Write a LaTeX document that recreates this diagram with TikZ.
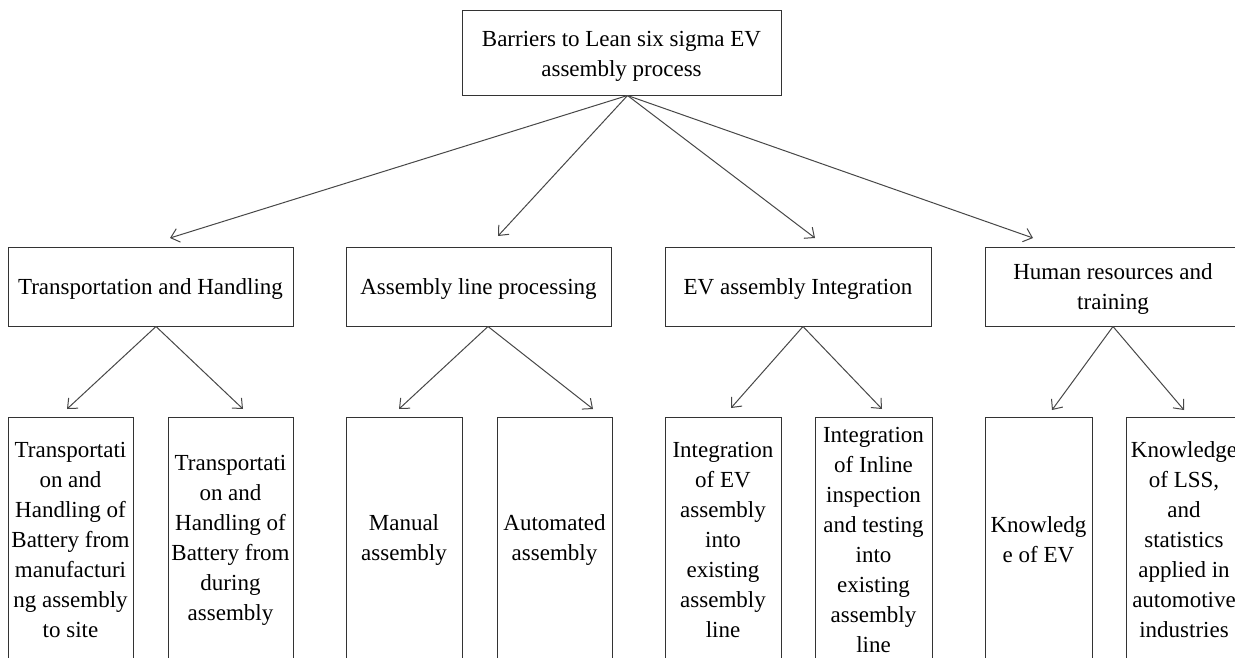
\documentclass[tikz,border=0pt]{standalone}
\usepackage{fontspec}
\setmainfont{Liberation Serif}
\usetikzlibrary{arrows.meta}
\tikzset{
  box/.style={draw=black!80, line width=1pt, inner sep=0pt, align=center,
    font=\fontsize{23}{30}\selectfont, text=black},
  txt/.style={inner sep=0pt, align=center, font=\fontsize{23}{30}\selectfont, text=black},
  arr/.style={draw=black!72, line width=1pt, -{Straight Barb[length=8pt,width=14pt,line width=1pt]}},
}
\begin{document}
\begin{tikzpicture}[x=1pt,y=-1pt]
\path[use as bounding box, clip] (0,0) rectangle (1235,657);
\fill[white] (0,0) rectangle (1235,657);
% top
\node[box, minimum width=319pt, minimum height=85pt,
  label={[txt, yshift=-3.5pt]center:Barriers to Lean six sigma EV\\assembly process}] (top) at (621.5,52.5) {};
% middle
\node[box, minimum width=285pt, minimum height=79pt,
  label={[txt, yshift=-2pt]center:Transportation and Handling}] (m1) at (150.5,286.5) {};
\node[box, minimum width=265pt, minimum height=79pt,
  label={[txt, yshift=-2pt]center:Assembly line processing}] (m2) at (478.5,286.5) {};
\node[box, minimum width=266pt, minimum height=79pt,
  label={[txt, yshift=-2pt]center:EV assembly Integration}] (m3) at (798,286.5) {};
\node[box, minimum width=256pt, minimum height=79pt,
  label={[txt, yshift=-2pt]center:Human resources and\\training}] (m4) at (1113,286.5) {};
% bottom
\node[box, minimum width=125pt, minimum height=246pt] (b1) at (70.5,540) {Transportati\\on and\\Handling of\\Battery from\\manufacturi\\ng assembly\\to site};
\node[box, minimum width=125pt, minimum height=246pt] (b2) at (230.5,540) {Transportati\\on and\\Handling of\\Battery from\\during\\assembly};
\node[box, minimum width=116pt, minimum height=246pt] (b3) at (404,540) {Manual\\assembly};
\node[box, minimum width=115pt, minimum height=246pt] (b4) at (554.5,540) {Automated\\assembly};
\node[box, minimum width=116pt, minimum height=246pt] (b5) at (723,540) {Integration\\of EV\\assembly\\into\\existing\\assembly\\line};
\node[box, minimum width=117pt, minimum height=246pt] (b6) at (873.5,540) {Integration\\of Inline\\inspection\\and testing\\into\\existing\\assembly\\line};
\node[box, minimum width=107pt, minimum height=246pt] (b7) at (1038.5,540) {Knowledg\\e of EV};
\node[box, minimum width=116pt, minimum height=246pt] (b8) at (1184,540) {Knowledge\\of LSS,\\and\\statistics\\applied in\\automotive\\industries};
% arrow end points
\coordinate (t1) at (170,238);
\coordinate (t2) at (498,236);
\coordinate (t3) at (815,238);
\coordinate (t4) at (1033,238);
\coordinate (e1) at (67,409);
\coordinate (e2) at (243,409);
\coordinate (e3) at (399,409);
\coordinate (e4) at (593,409);
\coordinate (e5) at (731,408);
\coordinate (e6) at (882,409);
\coordinate (e7) at (1052,410);
\coordinate (e8) at (1184,410);
% arrows
\foreach \t in {t1,t2,t3,t4} \draw[arr] ([xshift=6pt]top.south) -- (\t);
\draw[arr] ([xshift=5.5pt]m1.south) -- (e1);
\draw[arr] ([xshift=5.5pt]m1.south) -- (e2);
\draw[arr] ([xshift=9.5pt]m2.south) -- (e3);
\draw[arr] ([xshift=9.5pt]m2.south) -- (e4);
\draw[arr] ([xshift=5pt]m3.south) -- (e5);
\draw[arr] ([xshift=5pt]m3.south) -- (e6);
\draw[arr] (m4.south) -- (e7);
\draw[arr] (m4.south) -- (e8);
\end{tikzpicture}
\end{document}
